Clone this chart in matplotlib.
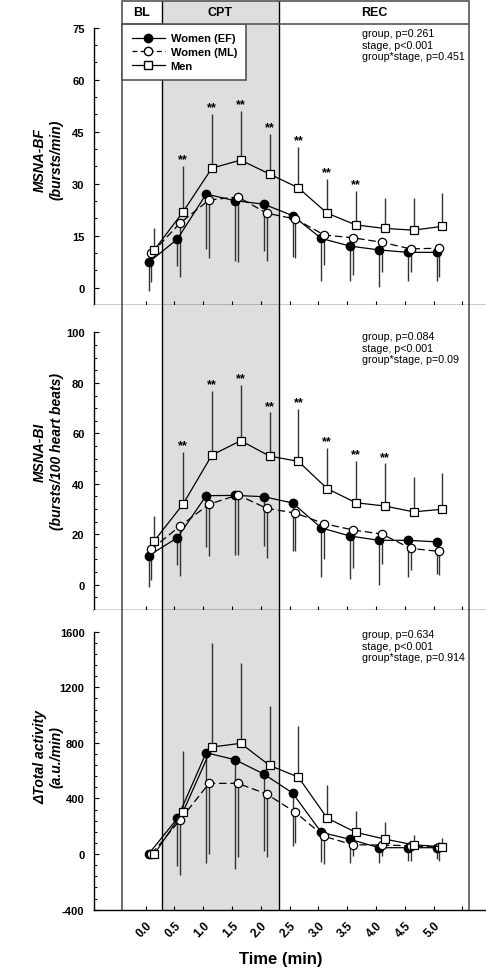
import matplotlib
matplotlib.use("Agg")
import matplotlib.pyplot as plt
from matplotlib import font_manager as fm
from matplotlib.lines import Line2D
from matplotlib.patches import Rectangle
from matplotlib.ticker import FixedLocator
import numpy as np

# ---------------- data ----------------
time = [0.0, 0.5, 1.0, 1.5, 2.0, 2.5, 3.0, 3.5, 4.0, 4.5, 5.0]
tick_labels = ["0.0", "0.5", "1.0", "1.5", "2.0", "2.5", "3.0", "3.5", "4.0", "4.5", "5.0"]
groups = ["Women (EF)", "Women (ML)", "Men"]

# MSNA-BF (bursts/min)
bf_ef = [7.3, 14.0, 27.0, 25.1, 24.1, 20.8, 14.2, 12.0, 10.9, 10.2, 10.2]
bf_ef_sd = [8.2, 7.8, 15.8, 17.3, 13.4, 12.0, 12.4, 10.2, 10.8, 8.4, 8.4]
bf_ml = [9.9, 18.7, 25.3, 26.2, 21.5, 19.8, 15.2, 14.4, 13.1, 11.2, 11.4]
bf_ml_sd = [8.3, 15.7, 16.8, 18.7, 13.7, 11.3, 8.6, 10.6, 8.5, 6.8, 8.2]
bf_men = [10.9, 21.9, 34.5, 36.8, 32.8, 28.8, 21.5, 18.1, 17.1, 16.6, 17.7]
bf_men_sd = [6.2, 13.3, 15.6, 14.1, 11.5, 11.7, 9.9, 9.7, 8.8, 9.2, 9.6]
bf_sig = [False, True, True, True, True, True, True, True, False, False, False]
bf_stats = "group, p=0.261\nstage, p<0.001\ngroup*stage, p=0.451"

# MSNA-BI (bursts/100 heart beats)
bi_ef = [11.5, 18.6, 35.3, 35.4, 34.9, 32.4, 22.5, 19.3, 17.6, 17.6, 17.0]
bi_ef_sd = [12.5, 10.8, 20.2, 23.5, 19.4, 19.2, 19.6, 17.0, 17.7, 14.4, 12.8]
bi_ml = [14.1, 23.3, 31.9, 35.6, 30.3, 28.4, 24.2, 21.7, 20.1, 14.4, 13.2]
bi_ml_sd = [12.1, 20.0, 20.4, 23.7, 19.6, 15.2, 14.0, 15.0, 11.9, 8.4, 9.2]
bi_men = [17.4, 32.0, 51.4, 57.1, 51.0, 48.9, 38.1, 32.5, 31.2, 28.9, 29.9]
bi_men_sd = [9.7, 20.5, 25.5, 22.2, 17.3, 20.7, 16.1, 16.4, 16.9, 13.7, 14.3]
bi_sig = [False, True, True, True, True, True, True, True, True, False, False]
bi_stats = "group, p=0.084\nstage, p<0.001\ngroup*stage, p=0.09"

# delta Total activity (a.u./min)
ta_ef = [0, 257, 729, 679, 576, 439, 156, 106, 46, 46, 46]
ta_ef_sd = [10, 346, 794, 787, 557, 384, 211, 171, 111, 96, 82]
ta_ml = [0, 247, 509, 509, 432, 300, 127, 67, 65, 60, 48]
ta_ml_sd = [0, 396, 509, 533, 456, 223, 199, 84, 82, 110, 101]
ta_men = [0, 305, 770, 797, 638, 554, 259, 156, 108, 67, 53]
ta_men_sd = [0, 434, 749, 578, 425, 370, 238, 151, 120, 70, 60]
ta_sig = [False] * 11
ta_stats = "group, p=0.634\nstage, p<0.001\ngroup*stage, p=0.914"

# ---------------- style ----------------
names = {f.name for f in fm.fontManager.ttflist}
SANS = "Liberation Sans" if "Liberation Sans" in names else "DejaVu Sans"
NARROW = "Liberation Sans Narrow" if "Liberation Sans Narrow" in names else SANS
plt.rcParams["font.family"] = [SANS, "DejaVu Sans"]
plt.rcParams["axes.unicode_minus"] = False

W, H = 486, 970
fig = plt.figure(figsize=(W / 100, H / 100), dpi=100)

def rect(left, top, right, bottom):
    return [left / W, 1 - bottom / H, (right - left) / W, (bottom - top) / H]

XLIM = (-0.892, 5.908)
BL_START, CPT_START, REC_START, REC_END = -0.406, 0.278, 2.319, 5.618
SHADE = "#dedede"
FRAME = "#555555"
offsets = [0.05, 0.10, 0.15]

AX_L, AX_R = 94.3, 486

panels = [
    dict(top=25.0, bottom=305.7, ylim=(-4.9, 76.06), ymaj=15, ymin=5, yb=(-4.9, 75),
         ytop=75, ybot=0, minor_lo=0,
         data=(bf_ef, bf_ef_sd, bf_ml, bf_ml_sd, bf_men, bf_men_sd), sig=bf_sig,
         stats=bf_stats, stats_y=35,
         lab=("MSNA-BF", "(bursts/min)"), lab_y=160),
    dict(top=305.7, bottom=610.7, ylim=(-9.9, 111.0), ymaj=20, ymin=5, yb=(-9.9, 100),
         ytop=100, ybot=0, minor_lo=-5,
         data=(bi_ef, bi_ef_sd, bi_ml, bi_ml_sd, bi_men, bi_men_sd), sig=bi_sig,
         stats=bi_stats, stats_y=338,
         lab=("MSNA-BI", "(bursts/100 heart beats)"), lab_y=452),
    dict(top=610.7, bottom=910.7, ylim=(-400, 1758), ymaj=400, ymin=80, yb=(-400, 1600),
         ytop=1600, ybot=-400, minor_lo=-400,
         data=(ta_ef, ta_ef_sd, ta_ml, ta_ml_sd, ta_men, ta_men_sd), sig=ta_sig,
         stats=ta_stats, stats_y=636,
         lab=("\u0394Total activity", "(a.u./min)"), lab_y=757),
]

ERRC = "#333333"
t = np.array(time)

for i, p in enumerate(panels):
    ax = fig.add_axes(rect(AX_L, p["top"], AX_R, p["bottom"]))
    ax.set_xlim(*XLIM)
    ax.set_ylim(*p["ylim"])
    ax.axvspan(CPT_START, REC_START, color=SHADE, zorder=0, lw=0)
    for xv in (CPT_START, REC_START):
        ax.axvline(xv, color="black", lw=1.0, zorder=1)
    for xv in (BL_START, REC_END):
        ax.axvline(xv, color=FRAME, lw=1.2, zorder=1)

    ef, ef_sd, ml, ml_sd, men, men_sd = [np.array(d, dtype=float) for d in p["data"]]
    z = np.zeros_like(ef)
    # error bars (one-sided)
    ax.errorbar(t + offsets[0], ef, yerr=[ef_sd, z], fmt="none", ecolor=ERRC, elinewidth=1.0, capsize=0, zorder=2)
    ax.errorbar(t + offsets[1], ml, yerr=[ml_sd, z], fmt="none", ecolor=ERRC, elinewidth=1.0, capsize=0, zorder=2)
    ax.errorbar(t + offsets[2], men, yerr=[z, men_sd], fmt="none", ecolor=ERRC, elinewidth=1.0, capsize=0, zorder=2)
    # lines
    ax.plot(t + offsets[0], ef, color="black", lw=0.9, marker="o", ms=6, mfc="black", mec="black", zorder=4)
    ax.plot(t + offsets[1], ml, color="black", lw=0.9, ls=(0, (6, 3)), marker="o", ms=6,
            mfc="white", mec="black", mew=0.9, zorder=4)
    ax.plot(t + offsets[2], men, color="black", lw=0.9, marker="s", ms=5.5,
            mfc="white", mec="black", mew=0.9, zorder=5)
    # significance stars
    for k, s in enumerate(p["sig"]):
        if s:
            ax.annotate("**", (t[k] + offsets[2], men[k] + men_sd[k]), xytext=(0, 0.5),
                        textcoords="offset points", ha="center", va="bottom",
                        fontsize=9, fontweight="bold", zorder=6)

    # spines
    for sp in ("top", "right"):
        ax.spines[sp].set_visible(False)
    ax.spines["left"].set_bounds(*p["yb"])
    ax.spines["left"].set_linewidth(1.0)
    ax.spines["bottom"].set_linewidth(1.0)

    ax.yaxis.set_major_locator(FixedLocator(np.arange(p["ybot"], p["ytop"] + 1e-6, p["ymaj"])))
    ax.yaxis.set_minor_locator(FixedLocator(np.arange(p["minor_lo"], p["ytop"] + 1e-6, p["ymin"])))
    ax.tick_params(axis="y", which="major", direction="in", length=3.5, width=0.8, pad=7)
    ax.tick_params(axis="y", which="minor", direction="in", length=2.2, width=0.7)
    for lab in ax.get_yticklabels():
        lab.set_fontfamily([NARROW, "DejaVu Sans"])
        lab.set_fontweight("bold")
        lab.set_fontsize(8)

    xt = list(time) + [5.5]
    ax.xaxis.set_major_locator(FixedLocator(xt))
    ax.tick_params(axis="x", which="major", direction="in", length=3, width=0.8)
    if i == 2:
        ax.set_xticklabels(tick_labels + [""], rotation=45, ha="right", va="top",
                           rotation_mode="anchor", fontweight="bold", fontsize=8.5,
                           fontfamily=[NARROW, "DejaVu Sans"])
        ax.tick_params(axis="x", pad=7)
    else:
        ax.set_xticklabels([])

    # stats text
    fig.text(362 / W, 1 - (p["stats_y"] - 6) / H, p["stats"], fontsize=7.7, ha="left", va="top",
             linespacing=1.2)

    # y labels
    fig.text(40 / W, 1 - p["lab_y"] / H, p["lab"][0], rotation=90, ha="center", va="center",
             fontsize=10, fontweight="bold", fontstyle="italic", fontfamily=[NARROW, "DejaVu Sans"])
    fig.text(57 / W, 1 - p["lab_y"] / H, p["lab"][1], rotation=90, ha="center", va="center",
             fontsize=10, fontweight="bold", fontstyle="italic", fontfamily=[NARROW, "DejaVu Sans"])

    if i == 0:
        handles = [
            Line2D([], [], color="black", lw=0.9, marker="o", ms=6, mfc="black", mec="black"),
            Line2D([], [], color="black", lw=0.9, ls=(0, (4, 2.5)), marker="o", ms=6, mfc="white", mec="black"),
            Line2D([], [], color="black", lw=0.9, marker="s", ms=5.5, mfc="white", mec="black"),
        ]
        leg = ax.legend(handles, groups, loc="upper left",
                        bbox_to_anchor=((122.3 - AX_L) / (AX_R - AX_L), 1.0),
                        borderaxespad=0, frameon=True, fancybox=False, framealpha=1,
                        edgecolor=FRAME, prop=dict(weight="bold", size=8, family=SANS),
                        handlelength=3.0, handletextpad=0.5, labelspacing=0.34,
                        borderpad=0.85)
        leg.get_frame().set_linewidth(1.2)
        leg.set_zorder(10)

# header
hax = fig.add_axes(rect(AX_L, 2, AX_R, 25))
hax.set_xlim(*XLIM)
hax.set_ylim(0, 1)
hax.axis("off")
hax.axvspan(CPT_START, REC_START, color=SHADE, lw=0, zorder=0)
hax.add_patch(Rectangle((BL_START, 0), REC_END - BL_START, 1, fill=False, edgecolor=FRAME, lw=1.2,
                        clip_on=False, zorder=3))
for xv in (CPT_START, REC_START):
    hax.axvline(xv, color="black", lw=1.0, zorder=2)
for name, (a, b) in [("BL", (BL_START, CPT_START)), ("CPT", (CPT_START, REC_START)), ("REC", (REC_START, REC_END))]:
    hax.text((a + b) / 2, 0.5, name, ha="center", va="center", fontsize=9, fontweight="bold")

fig.text(281 / W, 1 - 960 / H, "Time (min)", ha="center", va="center", fontsize=12, fontweight="bold")

fig.savefig("out.png", dpi=100)
